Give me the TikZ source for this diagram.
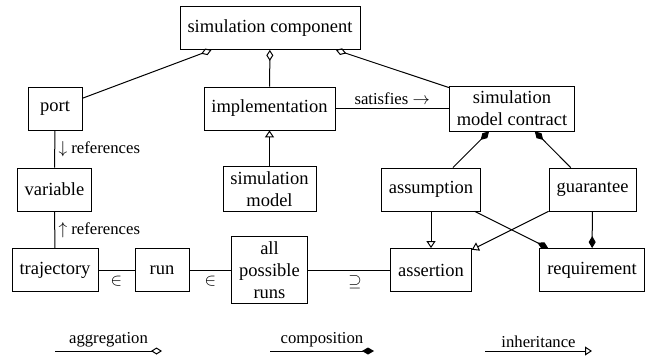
\documentclass[tikz,border=0pt]{standalone}
\usepackage{amsmath, amssymb}
\usepackage{fontspec}
\setmainfont{Liberation Serif}
\usepackage{tikz}
\usetikzlibrary{arrows.meta}

\tikzset{
  block/.style={draw, line width=0.8pt, align=center, inner xsep=7.5pt, inner ysep=5pt,
    minimum width=54pt, minimum height=43pt, font=\fontsize{18.5}{22}\selectfont},
  lbl/.style={font=\fontsize{16.7}{20}\selectfont},
  conn/.style={line width=1pt},
  aggr/.style={conn, -{Diamond[open, length=11pt, width=7pt]}},
  compo/.style={conn, -{Diamond[length=12pt, width=7pt]}},
  inh/.style={conn, -{Triangle[open, length=7pt, width=9pt]}}
}

\begin{document}
\begin{tikzpicture}[x=1pt, y=-1pt]
\useasboundingbox (0,0) rectangle (654,356);
\node[block] (comp) at (270,28) {simulation component};
\node[block] (port) at (55,108.5) {port};
\node[block] (impl) at (269.5,108.5) {implementation};
\node[block] (contract) at (512,108.5) {simulation\\model contract};
\node[block] (var) at (54.5,189.5) {variable};
\node[block] (simmodel) at (269.5,189) {simulation\\model};
\node[block] (assum) at (431,189.5) {assumption};
\node[block] (guar) at (592.5,189.5) {guarantee};
\node[block] (traj) at (55,270) {trajectory};
\node[block] (run) at (162,270) {run};
\node[block] (allruns) at (269.5,270) {all\\possible\\runs};
\node[block] (assert) at (431,270) {assertion};
\node[block] (req) at (592,270) {requirement};
% aggregation and composition
\draw[aggr] (port) -- (comp);
\draw[aggr] (impl) -- (comp);
\draw[aggr] (contract) -- (comp);
\draw[compo] (assum) -- (contract);
\draw[compo] (guar) -- (contract);
\draw[compo] (assum) -- (req);
\draw[compo] (guar) -- (req);
% inheritance
\draw[inh] (simmodel) -- (impl);
\draw[inh] (assum) -- (assert);
\draw[inh] (guar) -- (assert);
% plain relations
\draw[conn] (impl) -- node[lbl, above] {satisfies $\rightarrow$} (contract);
\draw[conn] (port) -- node[lbl, right] {$\downarrow$ references} (var);
\draw[conn] (var) -- node[lbl, right] {$\uparrow$ references} (traj);
\draw[conn] (traj) -- node[lbl, below=2pt] {$\in$} (run);
\draw[conn] (run) -- node[lbl, below=2pt] {$\in$} (allruns);
\draw[conn] (allruns) -- node[lbl, below=2pt, xshift=6pt] {$\supseteq$} (assert);
% legend
\coordinate (aggrA) at (55,351);
\coordinate (aggrB) at (162,351);
\coordinate (compoA) at (270,351);
\coordinate (compoB) at (374,351);
\coordinate (inhA) at (485,351);
\coordinate (inhB) at (592,351);
\draw[aggr] (aggrA) -- node[lbl, above] {aggregation} (aggrB);
\draw[compo] (compoA) -- node[lbl, above] {composition} (compoB);
\draw[inh] (inhA) -- node[lbl, above] {inheritance} (inhB);
\end{tikzpicture}
\end{document}
